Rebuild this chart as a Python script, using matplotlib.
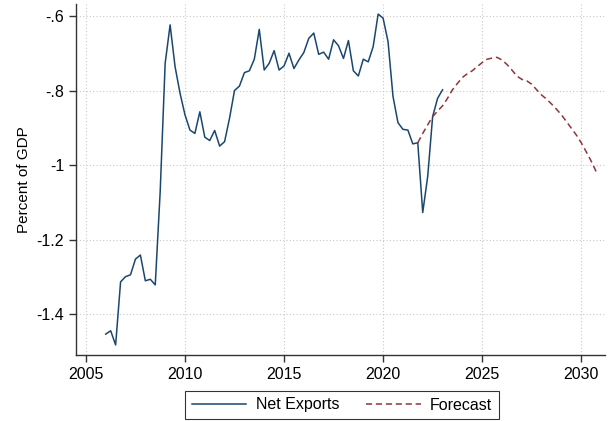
import numpy as np
import matplotlib
matplotlib.use("Agg")
from matplotlib import pyplot as plt

plt.rcParams['font.family'] = ['Liberation Sans', 'DejaVu Sans']

# net exports, quarterly, 2006q1 - 2023q1 (percent of GDP)
net_start = 2006.0
net_exports = [-1.453, -1.444, -1.482, -1.313, -1.299, -1.294, -1.252, -1.241,
               -1.310, -1.306, -1.321, -1.070, -0.727, -0.624, -0.736, -0.807,
               -0.865, -0.906, -0.915, -0.857, -0.925, -0.934, -0.907, -0.949,
               -0.937, -0.874, -0.800, -0.788, -0.752, -0.747, -0.716, -0.636,
               -0.745, -0.727, -0.693, -0.745, -0.734, -0.700, -0.741, -0.718,
               -0.698, -0.660, -0.646, -0.703, -0.697, -0.716, -0.664, -0.680,
               -0.714, -0.666, -0.747, -0.761, -0.716, -0.723, -0.682, -0.595,
               -0.606, -0.669, -0.816, -0.886, -0.904, -0.906, -0.943, -0.940,
               -1.127, -1.031, -0.870, -0.821, -0.798]

# forecast, quarterly, 2021q4 - 2030q4
fc_start = 2021.75
forecast = [-0.940, -0.915, -0.892, -0.870, -0.855, -0.841, -0.821, -0.798,
            -0.781, -0.765, -0.755, -0.747, -0.736, -0.725, -0.716, -0.713,
            -0.711, -0.718, -0.730, -0.745, -0.761, -0.770, -0.774, -0.783,
            -0.798, -0.812, -0.823, -0.836, -0.850, -0.865, -0.883, -0.901,
            -0.919, -0.940, -0.964, -0.989, -1.017]

x_ticks = [2005, 2010, 2015, 2020, 2025, 2030]
y_ticks = [-0.6, -0.8, -1.0, -1.2, -1.4]
y_labels = ['-.6', '-.8', '-1', '-1.2', '-1.4']

t_net = net_start + 0.25 * np.arange(len(net_exports))
t_fc = fc_start + 0.25 * np.arange(len(forecast))

fig = plt.figure(figsize=(6.1, 4.21), dpi=100)
ax = fig.add_axes([76/610, 1-355/421, (605-76)/610, (355-4)/421])

ax.plot(t_net, net_exports, color='#1a476f', linewidth=1.1, label='Net Exports')
ax.plot(t_fc, forecast, color='#90353b', linewidth=1.1, linestyle=(0, (4, 2.5)), label='Forecast')

ax.set_xlim(2004.5, 2031.2)
ax.set_ylim(-1.509, -0.568)
ax.set_xticks(x_ticks)
ax.set_yticks(y_ticks)
ax.set_yticklabels(y_labels)
ax.grid(True, color='#c8c8c8', linestyle=(0, (1, 2)), linewidth=0.8)
ax.set_axisbelow(True)

for s in ['top', 'right']:
    ax.spines[s].set_visible(False)
for s in ['left', 'bottom']:
    ax.spines[s].set_color('#333333')
    ax.spines[s].set_linewidth(1.0)
ax.tick_params(axis='both', labelsize=11.5, direction='out', length=5, width=1.0, color='#333333')
ax.set_ylabel('Percent of GDP', fontsize=11, labelpad=4)

leg = fig.legend(loc='center', bbox_to_anchor=(342/610, 1-405/421), ncol=2,
                 fontsize=11.5, frameon=True, fancybox=False, edgecolor='black',
                 handlelength=3.4, columnspacing=1.7, borderpad=0.4, handletextpad=0.6)
leg.get_frame().set_linewidth(0.8)

fig.savefig('out.png', dpi=100)
